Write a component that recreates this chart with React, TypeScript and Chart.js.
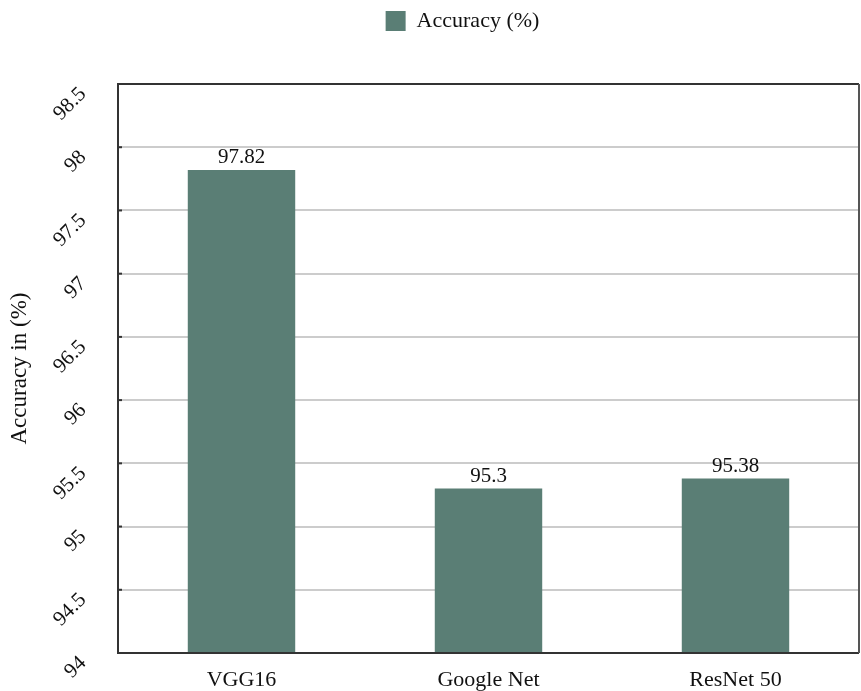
import React, { useEffect, useRef } from "react";
import { Chart, registerables } from "chart.js";

Chart.register(...registerables);

const categories = ["VGG16", "Google Net", "ResNet 50"];
const accuracy = [97.82, 95.3, 95.38];
const valueLabels = ["97.82", "95.3", "95.38"];
const seriesName = "Accuracy (%)";
const yTitle = "Accuracy in (%)";
const yMin = 94;
const yMax = 98.5;
const yStep = 0.5;

const FONT = "'Liberation Serif', 'Times New Roman', serif";
const BAR = "#5a7e75";

export default function App() {
  const ref = useRef<HTMLCanvasElement | null>(null);

  useEffect(() => {
    if (!ref.current) return;

    const framePlugin = {
      id: "frame",
      beforeInit(chart: any) {
        const legend = chart.legend;
        if (legend) {
          const orig = legend.fit;
          legend.fit = function () {
            orig.call(this);
            this.height = 84;
          };
        }
      },
      afterLayout(chart: any) {
        const legend = chart.legend;
        if (legend) {
          legend.left += 33;
          legend.right += 33;
        }
      },
      afterDraw(chart: any) {
        const { ctx, chartArea: a } = chart;
        ctx.save();
        ctx.lineWidth = 2;
        ctx.strokeStyle = "#333333";
        ctx.beginPath();
        ctx.moveTo(a.right, a.top);
        ctx.lineTo(a.left, a.top);
        ctx.lineTo(a.left, a.bottom);
        ctx.lineTo(a.right, a.bottom);
        ctx.stroke();
        ctx.strokeStyle = "#555555";
        ctx.beginPath();
        ctx.moveTo(a.right, a.top);
        ctx.lineTo(a.right, a.bottom);
        ctx.stroke();
        const y = chart.scales.y;
        ctx.strokeStyle = "#333333";
        ctx.lineWidth = 2;
        y.ticks.forEach((t: any) => {
          const py = y.getPixelForValue(t.value);
          ctx.beginPath();
          ctx.moveTo(a.left, py);
          ctx.lineTo(a.left + 4, py);
          ctx.stroke();
        });
        ctx.restore();
      },
      afterDatasetsDraw(chart: any) {
        const { ctx } = chart;
        const meta = chart.getDatasetMeta(0);
        ctx.save();
        ctx.fillStyle = "#111111";
        ctx.font = `21px ${FONT}`;
        ctx.textAlign = "center";
        ctx.textBaseline = "alphabetic";
        meta.data.forEach((bar: any, i: number) => {
          ctx.fillText(valueLabels[i], bar.x, bar.y - 7);
        });
        ctx.restore();
      },
    };

    const chart = new Chart(ref.current, {
      type: "bar",
      data: {
        labels: categories,
        datasets: [
          {
            label: seriesName,
            data: accuracy,
            backgroundColor: BAR,
            borderWidth: 0,
            barPercentage: 0.87,
            categoryPercentage: 0.5,
          },
        ],
      },
      options: {
        animation: false,
        responsive: false,
        layout: { padding: { right: 2, left: 0, top: 0, bottom: 0 } },
        plugins: {
          legend: {
            display: true,
            position: "top",
            labels: {
              boxWidth: 20,
              boxHeight: 20,
              padding: 10,
              color: "#111111",
              font: { family: FONT, size: 22 },
            },
          },
          tooltip: { enabled: false },
        },
        scales: {
          x: {
            grid: { display: false, drawTicks: false },
            border: { display: false },
            ticks: {
              color: "#111111",
              font: { family: FONT, size: 22 },
              padding: 14,
              maxRotation: 0,
            },
            afterFit(scale: any) {
              scale.height = 38;
              scale.paddingLeft = 0;
              scale.paddingRight = 0;
            },
          },
          y: {
            min: yMin,
            max: yMax,
            grid: {
              color: "#cccccc",
              lineWidth: 2,
              drawTicks: false,
            },
            border: { display: false },
            ticks: {
              stepSize: yStep,
              minRotation: 45,
              maxRotation: 45,
              padding: 35,
              labelOffset: 7,
              color: "#111111",
              font: { family: FONT, size: 21 },
              callback: (v: any) => String(Number(v)),
            },
            title: {
              display: true,
              text: yTitle,
              color: "#111111",
              font: { family: FONT, size: 23 },
              padding: { top: 6, bottom: 0 },
            },
            afterFit(scale: any) {
              scale.width = 118;
              scale.paddingTop = 0;
              scale.paddingBottom = 0;
            },
          },
        },
      },
      plugins: [framePlugin],
    } as any);

    return () => chart.destroy();
  }, []);

  return (
    <div style={{ position: "fixed", left: 0, top: 0, width: 861, height: 691, background: "#fff" }}>
      <canvas ref={ref} width={861} height={691} style={{ width: 861, height: 691 }} />
    </div>
  );
}
